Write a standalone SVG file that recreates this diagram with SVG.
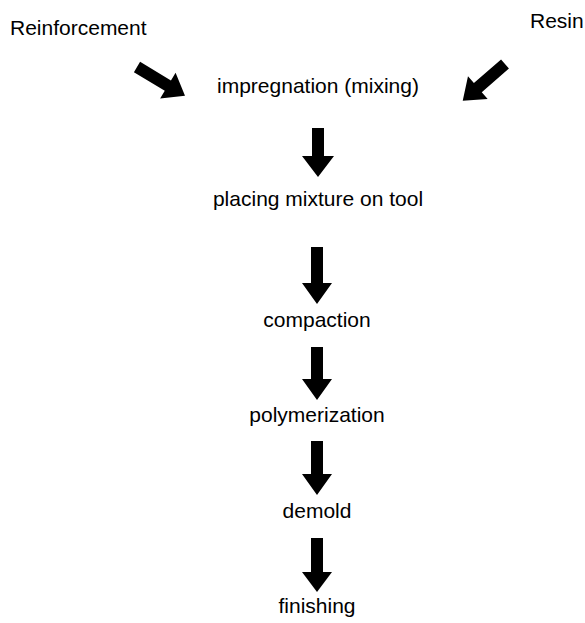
<svg xmlns="http://www.w3.org/2000/svg" width="585" height="623" viewBox="0 0 585 623">
<style>
text{font-family:"Liberation Sans",Arial,sans-serif;font-size:21px;fill:#000}
.c{text-anchor:middle}
.a{fill:#000}
</style>
<rect width="585" height="623" fill="#fff"/>
<g id="n-reinforcement"><text x="10" y="35">Reinforcement</text></g>
<g id="n-resin"><text x="530" y="28">Resin</text></g>
<g id="n-impregnation"><text class="c" x="318" y="93">impregnation (mixing)</text></g>
<g id="n-placing"><text class="c" x="318" y="206">placing mixture on tool</text></g>
<g id="n-compaction"><text class="c" x="317" y="327">compaction</text></g>
<g id="n-polymerization"><text class="c" x="317" y="422">polymerization</text></g>
<g id="n-demold"><text class="c" x="317" y="518">demold</text></g>
<g id="n-finishing"><text class="c" x="317" y="613">finishing</text></g>
<g id="connectors">
<path class="a" transform="translate(137,67) rotate(31)" d="M0,-6 L36,-6 L36,-15 L56,0 L36,15 L36,6 L0,6 Z"/>
<path class="a" transform="translate(505,64) rotate(139)" d="M0,-6 L36,-6 L36,-15 L56,0 L36,15 L36,6 L0,6 Z"/>
<path class="a" d="M312,128 L324,128 L324,156 L334,156 L318,177 L302,156 L312,156 Z"/>
<path class="a" d="M311,247 L323,247 L323,283 L332,283 L317,304 L302,283 L311,283 Z"/>
<path class="a" d="M311,347 L323,347 L323,379 L332,379 L317,400 L302,379 L311,379 Z"/>
<path class="a" d="M311,441 L323,441 L323,474 L332,474 L317,495 L302,474 L311,474 Z"/>
<path class="a" d="M311,538 L323,538 L323,572 L332,572 L317,592 L302,572 L311,572 Z"/>
</g>
</svg>
